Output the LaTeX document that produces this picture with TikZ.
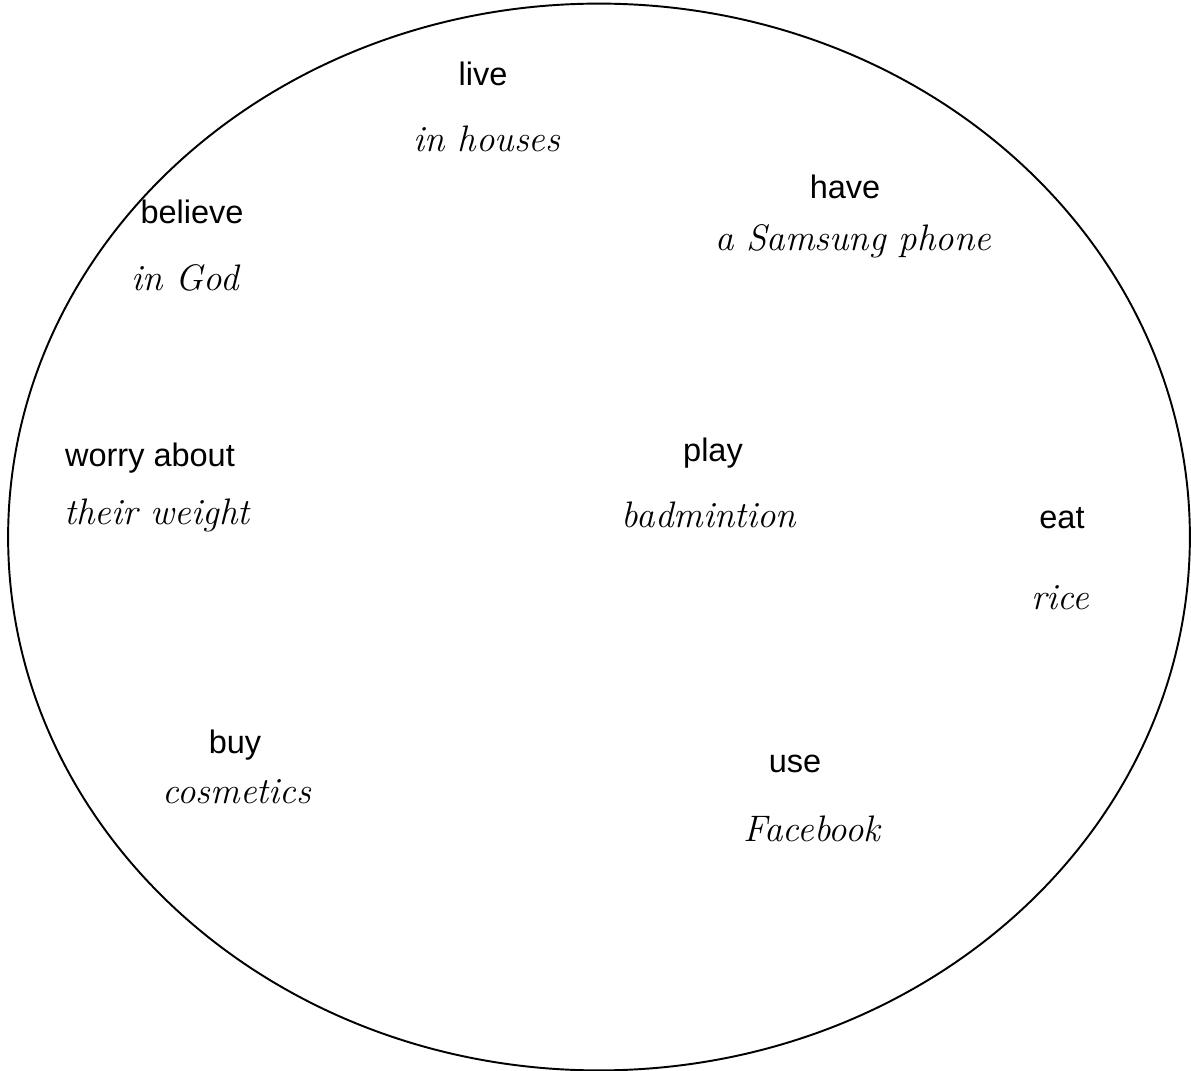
\documentclass[tikz,border=0pt]{standalone}
\usepackage{fontspec}
\setsansfont{Liberation Sans}
\usetikzlibrary{shapes.geometric}
\tikzstyle{verb} = [
 font = \sffamily\fontsize{18.5}{22}\selectfont,
 inner sep = 0pt,
 align = center
]
\tikzstyle{thing} = [
 font = \itshape\fontsize{21}{25}\selectfont,
 inner sep = 0pt,
 align = center
]
\tikzstyle{circle} = [
 ellipse,
 draw = black,
 line width = 1.1pt,
 minimum width = 23.64cm,
 minimum height = 21.34cm
]

\begin{document}
\begin{tikzpicture}[x=0.02cm,y=-0.02cm]
  \useasboundingbox (0,0) rectangle (1191,1071);
  \node [circle] (world) at (599,537) {};

  \node [verb] (live) at (483,74) {live};
  \node [thing] (houses) at (487,139) {in houses};

  \node [verb] (have) at (845,187) {have};
  \node [thing] (phone) at (853,241) {a Samsung phone};

  \node [verb] (believe) at (192,212) {believe};
  \node [thing] (god) at (185,278) {in God};

  \node [verb] (worry) at (150,458) {worry about};
  \node [thing] (weight) at (157,515) {their weight};

  \node [verb] (play) at (713,453) {play};
  \node [thing] (badminton) at (709,515) {badmintion};

  \node [verb] (eat) at (1062,518) {eat};
  \node [thing] (rice) at (1060,598) {rice};

  \node [verb] (buy) at (235,745) {buy};
  \node [thing] (cosmetics) at (237,792) {cosmetics};

  \node [verb] (use) at (795,764) {use};
  \node [thing] (facebook) at (812,829) {Facebook};
\end{tikzpicture}
\end{document}
